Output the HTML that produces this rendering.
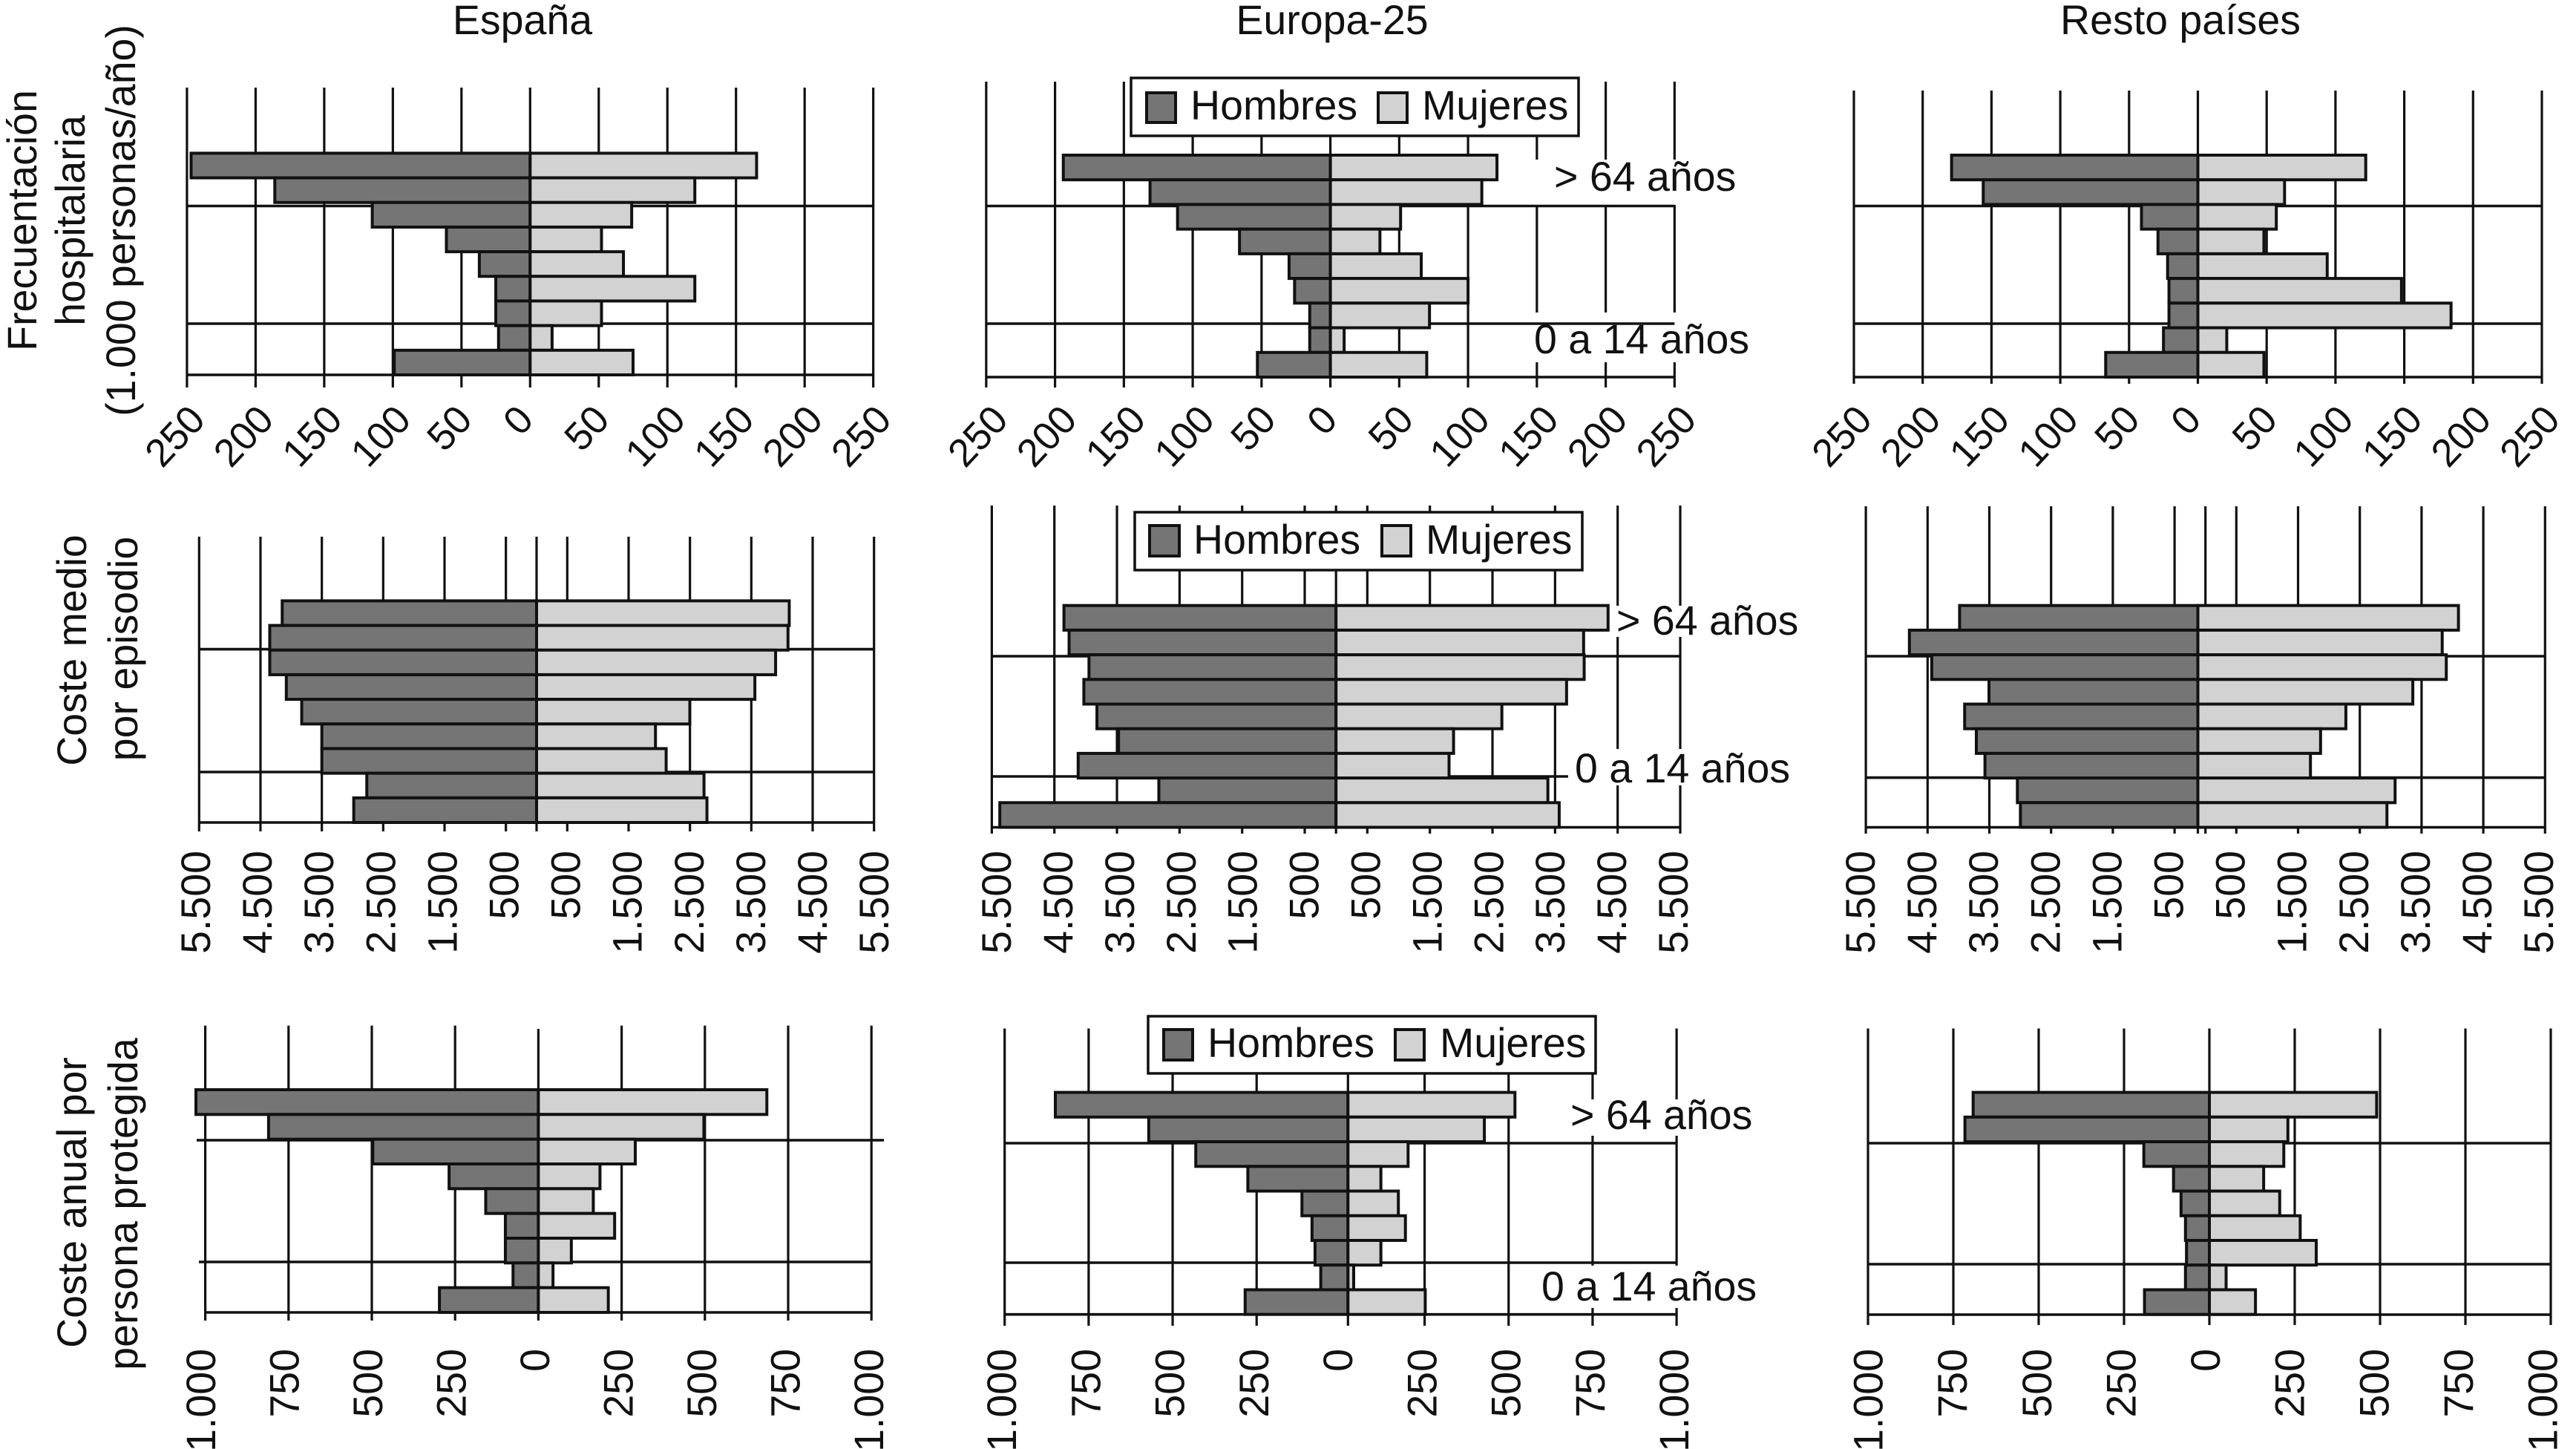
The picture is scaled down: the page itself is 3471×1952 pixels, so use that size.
<!DOCTYPE html>
<html lang="es">
<head>
<meta charset="utf-8">
<title>Pirámides de frecuentación y coste hospitalario</title>
<style>
html,body{margin:0;padding:0;background:#fff;width:3471px;height:1952px;overflow:hidden}
svg{display:block}
text{font-family:"Liberation Sans",Arial,sans-serif;fill:#111}
</style>
</head>
<body>
<svg id="figure" xmlns="http://www.w3.org/2000/svg" width="3471" height="1952" viewBox="0 0 3471 1952" font-size="55.5">
  <g>
    <text x="704" y="46" text-anchor="middle">España</text>
    <text x="1795" y="46" text-anchor="middle">Europa-25</text>
    <text x="2938" y="46" text-anchor="middle">Resto países</text>
  </g>
  <g>
    <text transform="translate(49,297) rotate(-90)" text-anchor="middle">Frecuentación</text>
    <text transform="translate(114,297) rotate(-90)" text-anchor="middle">hospitalaria</text>
    <text transform="translate(182,297) rotate(-90)" text-anchor="middle">(1.000 personas/año)</text>
    <text transform="translate(116,876) rotate(-90)" text-anchor="middle">Coste medio</text>
    <text transform="translate(185,874) rotate(-90)" text-anchor="middle">por episodio</text>
    <text transform="translate(116,1620) rotate(-90)" text-anchor="middle">Coste anual por</text>
    <text transform="translate(185,1622) rotate(-90)" text-anchor="middle">persona protegida</text>
  </g>
  <g id="panels"></g>

  <g>
    <rect x="1524" y="105" width="603" height="78" fill="#fff" stroke="#111" stroke-width="3.5"/>
    <rect x="1545" y="125" width="39" height="40" fill="#757575" stroke="#111" stroke-width="4"/>
    <text x="1604" y="161">Hombres</text>
    <rect x="1857" y="125" width="39" height="40" fill="#d2d2d2" stroke="#111" stroke-width="4"/>
    <text x="1916" y="161">Mujeres</text>
  </g>
  <g>
    <rect x="1529" y="690" width="603" height="78" fill="#fff" stroke="#111" stroke-width="3.5"/>
    <rect x="1549" y="708" width="40" height="41" fill="#757575" stroke="#111" stroke-width="4"/>
    <text x="1608" y="746">Hombres</text>
    <rect x="1862" y="708" width="39" height="41" fill="#d2d2d2" stroke="#111" stroke-width="4"/>
    <text x="1921" y="746">Mujeres</text>
  </g>
  <g>
    <rect x="1547" y="1369" width="603" height="77" fill="#fff" stroke="#111" stroke-width="3.5"/>
    <rect x="1568" y="1387" width="39" height="41" fill="#757575" stroke="#111" stroke-width="4"/>
    <text x="1627" y="1424">Hombres</text>
    <rect x="1880" y="1387" width="39" height="41" fill="#d2d2d2" stroke="#111" stroke-width="4"/>
    <text x="1940" y="1424">Mujeres</text>
  </g>
</svg>

<script>
// ---- categories (top to bottom of each pyramid) ----
const ageGroups = ['>74', '65-74', '55-64', '45-54', '35-44', '25-34', '15-24', '5-14', '0-4'];

// ---- axis ticks ----
const frecuenciaTicks = [-250, -200, -150, -100, -50, 0, 50, 100, 150, 200, 250];
const frecuenciaTickLabels = ['250', '200', '150', '100', '50', '0', '50', '100', '150', '200', '250'];
const costeMedioTicks = [-5500, -4500, -3500, -2500, -1500, -500, 500, 1500, 2500, 3500, 4500, 5500];
const costeMedioTickLabels = ['5.500', '4.500', '3.500', '2.500', '1.500', '500', '500', '1.500', '2.500', '3.500', '4.500', '5.500'];
const costeAnualTicks = [-1000, -750, -500, -250, 0, 250, 500, 750, 1000];
const costeAnualTickLabels = ['1.000', '750', '500', '250', '0', '250', '500', '750', '1.000'];

// ---- series values ----
const frecEspanaHombres = [247, 186, 115, 61, 37, 25, 25, 23, 99];
const frecEspanaMujeres = [165, 120, 74, 52, 68, 120, 52, 16, 75];
const frecEuropaHombres = [194, 131, 111, 66, 30, 26, 15, 15, 53];
const frecEuropaMujeres = [121, 110, 51, 36, 66, 100, 72, 10, 70];
const frecRestoHombres = [179, 156, 41, 29, 22, 21, 21, 25, 67];
const frecRestoMujeres = [122, 63, 57, 48, 94, 148, 184, 21, 48];

const medioEspanaHombres = [4146, 4349, 4349, 4079, 3828, 3500, 3500, 2767, 2980];
const medioEspanaMujeres = [4118, 4098, 3896, 3558, 2498, 1938, 2112, 2729, 2777];
const medioEuropaHombres = [4347, 4265, 3947, 4029, 3820, 3475, 4120, 2831, 5372];
const medioEuropaMujeres = [4347, 3956, 3965, 3684, 2650, 1878, 1806, 3385, 3566];
const medioRestoHombres = [3859, 4672, 4310, 3383, 3777, 3588, 3448, 2923, 2874];
const medioRestoMujeres = [4220, 3957, 4023, 3481, 2397, 1987, 1823, 3194, 3062];

const anualEspanaHombres = [1028, 810, 497, 268, 158, 99, 99, 76, 297];
const anualEspanaMujeres = [686, 497, 291, 185, 165, 229, 99, 44, 210];
const anualEuropaHombres = [871, 593, 453, 298, 137, 107, 98, 81, 306];
const anualEuropaMujeres = [497, 406, 179, 98, 150, 171, 98, 17, 230];
const anualRestoHombres = [692, 716, 192, 105, 83, 70, 67, 70, 190];
const anualRestoMujeres = [490, 230, 218, 159, 206, 266, 313, 49, 135];

// ---- panel geometry (separate from data) ----
const panels = [
  {id:'espana-frecuentacion', kind:'angled', men:frecEspanaHombres, women:frecEspanaMujeres, ticks:frecuenciaTicks, labels:frecuenciaTickLabels,
   k:1.8495, barZero:714.3, gridZero:714.3, top:118, barTop:206.4, barBot:505, rules:[277.5,436,505], tickEnd:522, labelDx:27, labelY:567.5},
  {id:'europa-frecuentacion', kind:'angled', men:frecEuropaHombres, women:frecEuropaMujeres, ticks:frecuenciaTicks, labels:frecuenciaTickLabels,
   k:1.855, barZero:1792.6, gridZero:1792.6, top:110, barTop:209, barBot:508, rules:[277.5,436,508], tickEnd:522, labelDx:32, labelY:567.5,
   boxes:[{t:'> 64 años', x:2061, y:215, w:290, h:61, tx:2094, ty:257},{t:'0 a 14 años', x:2058, y:421, w:300, h:67, tx:2067, ty:476}]},
  {id:'resto-frecuentacion', kind:'angled', men:frecRestoHombres, women:frecRestoMujeres, ticks:frecuenciaTicks, labels:frecuenciaTickLabels,
   k:1.854, barZero:2961.5, gridZero:2961.5, top:122, barTop:209, barBot:508, rules:[277.5,436,508], tickEnd:517, labelDx:27, labelY:567.5},

  {id:'espana-coste-medio', kind:'vertical', men:medioEspanaHombres, women:medioEspanaMujeres, ticks:costeMedioTicks, labels:costeMedioTickLabels,
   k:0.08267, barZero:723, gridZero:723, top:723, barTop:809.4, barBot:1108, rules:[874.6,1040,1108], tickEnd:1120, labelZero:740, labelK:0.0831, labelEnd:1146},
  {id:'europa-coste-medio', kind:'vertical', men:medioEuropaHombres, women:medioEuropaMujeres, ticks:costeMedioTicks, labels:costeMedioTickLabels,
   k:0.08433, barZero:1800.2, gridZero:1800.2, top:681, barTop:815.7, barBot:1114.5, rules:[884,1046,1114.5], ruleEnds:{1:2113}, tickEnd:1123, labelZero:1818, labelK:0.0829, labelEnd:1146,
   boxes:[{t:'> 64 años', x:2170, y:816, w:255, h:42, tx:2178, ty:855},{t:'0 a 14 años', x:2115, y:1009, w:298, h:49, tx:2122, ty:1054}]},
  {id:'resto-coste-medio', kind:'vertical', men:medioRestoHombres, women:medioRestoMujeres, ticks:costeMedioTicks, labels:costeMedioTickLabels,
   k:0.0832, barZero:2961.5, gridZero:2971.7, top:682, axisTop:815, barTop:815.7, barBot:1114.5, rules:[884,1047.6,1114.5], tickEnd:1123, labelZero:2983, labelK:0.0831, labelEnd:1146, gridZeroLine:true},

  {id:'espana-coste-anual', kind:'vertical', men:anualEspanaHombres, women:anualEspanaMujeres, ticks:costeAnualTicks, labels:costeAnualTickLabels,
   k:0.4488, barZero:725.4, gridZero:725.4, top:1381.6, axisTop:1386, barTop:1468, barBot:1768, rules:[1536,1700,1768], ruleStarts:{0:265,1:268}, ruleEnds:{0:1191}, tickEnd:1779, labelZero:740, labelK:0.45, labelEnd:1817},
  {id:'europa-coste-anual', kind:'vertical', men:anualEuropaHombres, women:anualEuropaMujeres, ticks:costeAnualTicks, labels:costeAnualTickLabels,
   k:0.4527, barZero:1816.3, gridZero:1806.4, top:1385.5, barTop:1471.6, barBot:1770.7, rules:[1540,1701,1770.7], tickEnd:1786, labelZero:1822, labelK:0.453, labelEnd:1817,
   boxes:[{t:'> 64 años', x:2107, y:1481, w:256, h:49, tx:2116, ty:1521},{t:'0 a 14 años', x:2069, y:1705, w:298, h:57, tx:2077, ty:1752}]},
  {id:'resto-coste-anual', kind:'vertical', men:anualRestoHombres, women:anualRestoMujeres, ticks:costeAnualTicks, labels:costeAnualTickLabels,
   k:0.46, barZero:2977, gridZero:2977, top:1385.5, barTop:1471.6, barBot:1770.7, rules:[1540,1703,1771], tickEnd:1785, labelZero:2991, labelK:0.4545, labelEnd:1817}
];

const SVG_NS = 'http://www.w3.org/2000/svg';
function mk(parent, tag, attrs, txt) {
  const el = document.createElementNS(SVG_NS, tag);
  for (const a in attrs) el.setAttribute(a, attrs[a]);
  if (txt !== undefined) el.textContent = txt;
  parent.appendChild(el);
  return el;
}

const root = document.getElementById('panels');
panels.forEach(function (p) {
  const xGrid = function (v) { return p.gridZero + v * p.k; };
  const xBar = function (v) { return p.barZero + v * p.k; };
  const bandH = (p.barBot - p.barTop) / ageGroups.length;
  const yBand = function (i) { return p.barTop + i * bandH; };
  const left = xGrid(p.ticks[0]);
  const right = xGrid(p.ticks[p.ticks.length - 1]);

  const g = mk(root, 'g', {});
  
  

  // vertical gridlines and tick marks (the zero line is handled separately)
  p.ticks.forEach(function (v) {
    if (v === 0) return;
    const line = mk(g, 'line', {x1: xGrid(v), x2: xGrid(v), y1: p.top, y2: p.tickEnd, stroke: '#111', 'stroke-width': 3.2});
    
    
  });
  // zero-axis line at the bars' origin
  const axis = mk(g, 'line', {x1: xBar(0), x2: xBar(0), y1: p.axisTop || p.top, y2: p.tickEnd, stroke: '#111', 'stroke-width': 3.2});
  
  
  if (p.gridZeroLine) {
    const zl = mk(g, 'line', {x1: xGrid(0), x2: xGrid(0), y1: p.top, y2: p.tickEnd, stroke: '#111', 'stroke-width': 3.2});
    
    
  }

  // white label backings break the gridlines
  (p.boxes || []).forEach(function (b) {
    const back = mk(g, 'rect', {x: b.x, y: b.y, width: b.w, height: b.h, fill: '#fff'});
    
    
  });

  // horizontal age-band rules
  p.rules.forEach(function (y, i) {
    const x1 = (p.ruleStarts && p.ruleStarts[i]) || left;
    const x2 = (p.ruleEnds && p.ruleEnds[i]) || right;
    const rule = mk(g, 'line', {x1: x1, x2: x2, y1: y, y2: y, stroke: '#111', 'stroke-width': 3.6});
    
    
  });

  // bars
  ageGroups.forEach(function (age, i) {
    const m = mk(g, 'rect', {x: xBar(-p.men[i]), y: yBand(i), width: p.men[i] * p.k, height: bandH, fill: '#757575', stroke: '#111', 'stroke-width': 4});
    
    
    const w = mk(g, 'rect', {x: xBar(0), y: yBand(i), width: p.women[i] * p.k, height: bandH, fill: '#d2d2d2', stroke: '#111', 'stroke-width': 4});
    
    
  });

  // tick labels
  p.ticks.forEach(function (v, i) {
    const s = p.labels[i];
    let tr;
    if (p.kind === 'angled') {
      const px = (v === 0 ? xBar(0) : xGrid(v)) + p.labelDx + (s.length - 3) * 10;
      tr = 'translate(' + px + ',' + p.labelY + ') rotate(-47)';
    } else {
      const px = p.labelZero + v * p.labelK;
      tr = 'translate(' + px + ',' + p.labelEnd + ') rotate(-90)';
    }
    const size = p.kind === 'angled' ? 53 : 55.5;
    const t = mk(g, 'text', {transform: tr, 'text-anchor': 'end', 'font-size': size}, s);
    
    
  });

  // age labels
  (p.boxes || []).forEach(function (b) {
    const t = mk(g, 'text', {x: b.tx, y: b.ty}, b.t);
    
    
  });
});
</script>
</body>
</html>
